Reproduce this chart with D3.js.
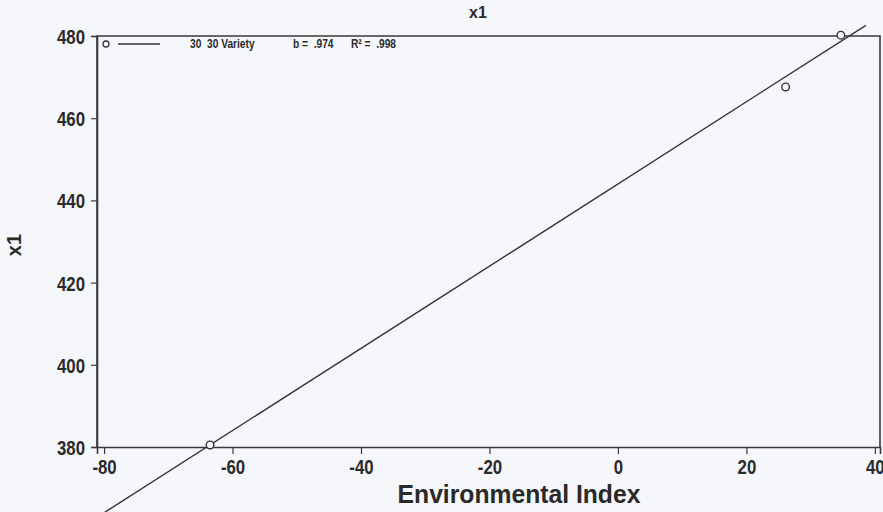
<!DOCTYPE html>
<html>
<head>
<meta charset="utf-8">
<script src="https://cdn.jsdelivr.net/npm/d3@7"></script>
<style>
  html, body { margin: 0; padding: 0; background: #f5f7fb; }
  svg { display: block; }
  text { font-family: "Liberation Sans", Arial, sans-serif; font-weight: bold; fill: #2a2a2a; white-space: pre; }
</style>
</head>
<body>
<div class="main"></div>
<script>
// values
let envIndex = [-63.5, 26.1, 34.7];
let x1Values = [380.5, 467.6, 480.2];
let xTicks = [-80, -60, -40, -20, 0, 20, 40];
let yTicks = [380, 400, 420, 440, 460, 480];
let seriesName = '30  30 Variety';
let slopeLabel = 'b =  .974';
let r2Label = 'R\u00b2 =  .998';
let fitIntercept = 444;
let fitSlope = 1.0;
let fitRange = [-81.8, 38.6];

let chart = {
  width: 883,
  height: 512,
  left: 97,
  right: 880,
  top: 36,
  bottom: 447
};

let svg = d3.select('.main').append('svg')
  .attr('width', chart.width)
  .attr('height', chart.height);

let x = d3.scaleLinear().domain([-81.1, 40.8]).range([chart.left, chart.right]);
let y = d3.scaleLinear().domain([380, 480]).range([chart.bottom, chart.top]);

// the scan uses a narrow bold face, squeeze text horizontally
let squeeze = 0.8;

// frame (left, top, right)
svg.append('path')
  .attr('d', `M${chart.left},${chart.bottom}V${chart.top}H${chart.right}V${chart.bottom}`)
  .attr('fill', 'none')
  .attr('stroke', '#3a3a3a')
  .attr('stroke-width', 1.6);

// axes
let xAxis = svg.append('g')
  .attr('transform', `translate(0,${chart.bottom})`)
  .call(d3.axisBottom(x).tickValues(xTicks).tickSize(7).tickPadding(5).tickFormat(d => String(d)));
let yAxis = svg.append('g')
  .attr('transform', `translate(${chart.left},0)`)
  .call(d3.axisLeft(y).tickValues(yTicks).tickSize(6).tickPadding(6).tickFormat(d => String(d)));

[xAxis, yAxis].forEach(g => {
  g.select('.domain').attr('stroke', '#3a3a3a').attr('stroke-width', 1.6);
  g.selectAll('.tick line').attr('stroke', '#3a3a3a').attr('stroke-width', 1.2);
  g.selectAll('.tick text')
    .attr('fill', '#2a2a2a')
    .style('font-family', '"Liberation Sans", Arial, sans-serif')
    .style('font-weight', 'bold')
    .style('font-size', '21px');
});
yAxis.selectAll('.tick text').each(function() {
  let t = d3.select(this);
  let tx = +t.attr('x');
  t.attr('x', 0).attr('dy', '0.36em').attr('transform', `translate(${tx},0) scale(${squeeze},1)`);
});
xAxis.selectAll('.tick text').attr('transform', `scale(${squeeze},1)`);

// titles
svg.append('text')
  .attr('x', 478).attr('y', 18)
  .attr('text-anchor', 'middle')
  .style('font-size', '16px')
  .text('x1');

svg.append('text')
  .attr('transform', `translate(519,503) scale(0.95,1)`)
  .attr('text-anchor', 'middle')
  .style('font-size', '26px')
  .text('Environmental Index');

svg.append('text')
  .attr('transform', 'translate(21,245) rotate(-90)')
  .attr('text-anchor', 'middle')
  .style('font-size', '20px')
  .text('x1');

// fitted line, extends past the frame like the original
let fit = fitRange.map(v => [v, fitIntercept + fitSlope * v]);
svg.append('path')
  .datum(fit)
  .attr('d', d3.line().x(d => x(d[0])).y(d => y(d[1])))
  .attr('fill', 'none')
  .attr('stroke', '#333')
  .attr('stroke-width', 1.4);

// observed points
svg.selectAll('circle.pt')
  .data(envIndex.map((v, i) => ({ ei: v, val: x1Values[i] })))
  .enter().append('circle')
  .attr('class', 'pt')
  .attr('cx', d => x(d.ei))
  .attr('cy', d => y(d.val))
  .attr('r', 3.8)
  .attr('fill', '#f5f7fb')
  .attr('stroke', '#333')
  .attr('stroke-width', 1.4);

// legend
let legend = svg.append('g').attr('transform', 'translate(106,44)');
legend.append('circle').attr('r', 3).attr('fill', '#f5f7fb').attr('stroke', '#333').attr('stroke-width', 1.3);
legend.append('line').attr('x1', 12).attr('x2', 54).attr('stroke', '#333').attr('stroke-width', 1.3);
[[seriesName, 84], [slopeLabel, 187], [r2Label, 245]].forEach(([label, lx]) => {
  legend.append('text')
    .attr('transform', `translate(${lx},4) scale(0.85,1)`)
    .style('font-size', '12px')
    .text(label);
});
</script>
</body>
</html>
